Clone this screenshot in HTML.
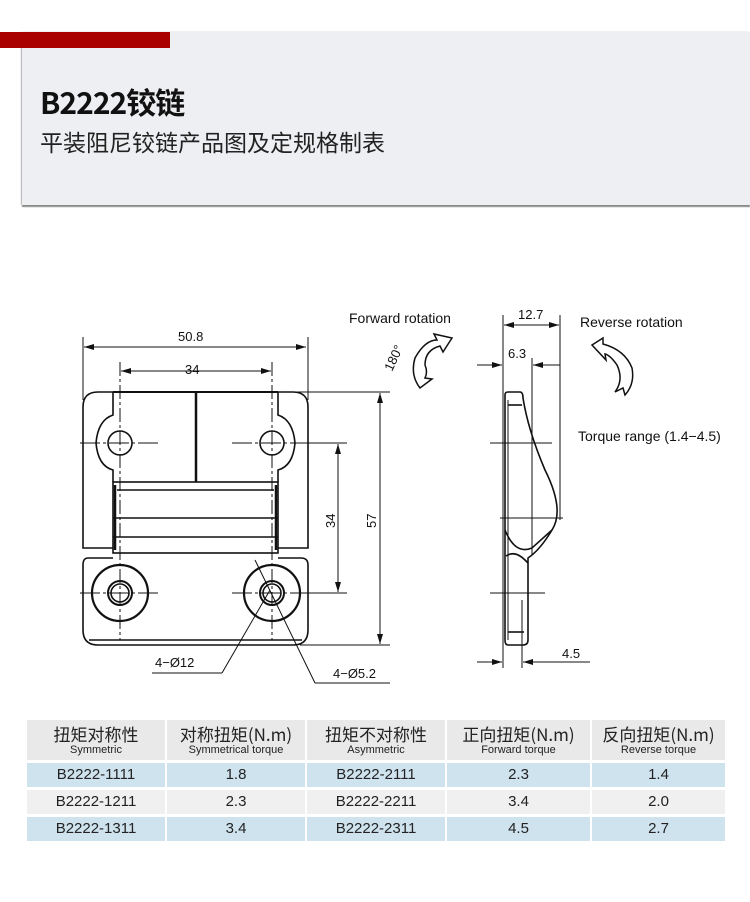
<!DOCTYPE html>
<html><head><meta charset="utf-8"><style>
body{margin:0;width:750px;height:902px;background:#fff;overflow:hidden;position:relative;font-family:"Liberation Sans","Noto Sans CJK SC",sans-serif}
.panel{position:absolute;left:22px;top:32px;width:728px;height:173px;background:#eeeff2;box-shadow:0 2px 1px #888,-1px 0 1px #bbb}
.red{position:absolute;left:0;top:32px;width:170px;height:16px;background:#a90000}
.t1{position:absolute;left:40px;top:79px;font-size:30px;font-weight:bold;color:#111;font-family:"Noto Sans CJK SC",sans-serif;letter-spacing:-1px}
.t2{position:absolute;left:40px;top:124px;font-size:23px;color:#222;font-family:"Noto Sans CJK SC",sans-serif}
.c{position:absolute;text-align:center;color:#222;font-size:15px;overflow:hidden;white-space:nowrap}
.h{background:#e9e9ea;top:720px;height:40px}
.h b{display:block;font-weight:normal;font-size:17px;line-height:21px;margin-top:3px;font-family:"Noto Sans CJK SC",sans-serif}
.h i{display:block;font-style:normal;font-size:11px;line-height:13px}
.r1{top:763px;height:24px;line-height:24px;background:#cfe3ef}
.r2{top:790px;height:24px;line-height:24px;background:#f0f0f0}
.r3{top:817px;height:24px;line-height:24px;background:#cfe3ef}
.k1{left:27px;width:138px}.k2{left:167px;width:138px}.k3{left:307px;width:138px}.k4{left:447px;width:143px}.k5{left:592px;width:133px}
</style></head><body>
<div class="panel"></div><div class="red"></div>
<div class="t1">B2222铰链</div>
<div class="t2">平装阻尼铰链产品图及定规格制表</div>
<svg width="750" height="902" style="position:absolute;left:0;top:0" font-family="Liberation Sans, sans-serif">
<defs><marker id="a" markerWidth="10" markerHeight="6" refX="10" refY="3" orient="auto" markerUnits="userSpaceOnUse"><path d="M0,0L10,3L0,6z" fill="#111"/></marker></defs>
<g stroke="#111" fill="none" stroke-width="1">
<line x1="83" y1="337" x2="83" y2="400"/><line x1="308" y1="337" x2="308" y2="400"/>
<line x1="86" y1="347" x2="306" y2="347" marker-end="url(#a)"/><line x1="300" y1="347" x2="84" y2="347" marker-end="url(#a)"/>
<line x1="120" y1="362" x2="120" y2="640" stroke-dasharray="14,3,3,3"/><line x1="272" y1="362" x2="272" y2="640" stroke-dasharray="14,3,3,3"/>
<line x1="121" y1="371" x2="271" y2="371" marker-end="url(#a)"/><line x1="260" y1="371" x2="121" y2="371" marker-end="url(#a)"/>
<line x1="278" y1="392" x2="390" y2="392"/><line x1="300" y1="645" x2="390" y2="645"/>
<line x1="290" y1="443" x2="347" y2="443"/><line x1="290" y1="593" x2="347" y2="593"/>
<line x1="380" y1="393" x2="380" y2="644" marker-end="url(#a)"/><line x1="380" y1="600" x2="380" y2="393" marker-end="url(#a)"/>
<line x1="338" y1="444" x2="338" y2="592" marker-end="url(#a)"/><line x1="338" y1="560" x2="338" y2="444" marker-end="url(#a)"/>
<line x1="80" y1="443" x2="160" y2="443" stroke-dasharray="20,3,3,3"/><line x1="232" y1="443" x2="300" y2="443" stroke-dasharray="20,3,3,3"/>
<line x1="80" y1="593" x2="160" y2="593" stroke-dasharray="20,3,3,3"/><line x1="232" y1="593" x2="300" y2="593" stroke-dasharray="20,3,3,3"/>
<g stroke-width="1.6">
<path d="M113,392 H98 Q83,392 83,407 V548 H113"/><path d="M278,392 H293 Q308,392 308,407 V548 H278"/>
<path d="M113,392 V415 Q98,420 96,443 Q98,466 113,470 V482"/><path d="M278,392 V415 Q293,420 295,443 Q293,466 278,470 V482"/>
<line x1="113" y1="392" x2="278" y2="392" stroke-width="2"/>
<line x1="196" y1="392" x2="196" y2="482" stroke-width="2.5"/>
<rect x="113" y="482" width="165" height="71"/>
<line x1="117" y1="490" x2="274" y2="490"/><line x1="113" y1="518" x2="278" y2="518"/><line x1="113" y1="537" x2="278" y2="537"/>
<line x1="115" y1="485" x2="115" y2="550" stroke-width="2.5"/><line x1="276" y1="485" x2="276" y2="550" stroke-width="2.5"/>
<path d="M113,558 H88 Q83,558 83,565 V630 Q83,645 98,645 H293 Q308,645 308,630 V565 Q308,558 301,558 H278"/>
<line x1="89" y1="640" x2="302" y2="640"/>
<circle cx="120" cy="443" r="12"/><circle cx="272" cy="443" r="12"/>
<circle cx="120" cy="593" r="28" stroke-width="2.2"/><circle cx="120" cy="593" r="12" stroke-width="2"/><circle cx="120" cy="593" r="9"/>
<circle cx="272" cy="593" r="28" stroke-width="2.2"/><circle cx="272" cy="593" r="12" stroke-width="2"/><circle cx="272" cy="593" r="9"/>
</g>
<line x1="255" y1="560" x2="315" y2="683"/><line x1="315" y1="683" x2="390" y2="683"/>
<line x1="270" y1="590" x2="222" y2="673"/><line x1="152" y1="673" x2="222" y2="673"/>
<line x1="503" y1="315" x2="503" y2="668"/><line x1="560" y1="315" x2="560" y2="520"/><line x1="532" y1="358" x2="532" y2="555"/><line x1="522" y1="600" x2="522" y2="668"/>
<line x1="504" y1="325" x2="559" y2="325" marker-end="url(#a)"/><line x1="540" y1="325" x2="504" y2="325" marker-end="url(#a)"/>
<line x1="477" y1="365" x2="502" y2="365" marker-end="url(#a)"/><line x1="560" y1="365" x2="533" y2="365" marker-end="url(#a)"/>
<line x1="477" y1="662" x2="502" y2="662" marker-end="url(#a)"/><line x1="590" y1="662" x2="523" y2="662" marker-end="url(#a)"/>
<line x1="490" y1="443" x2="552" y2="443"/><line x1="500" y1="518" x2="563" y2="518"/><line x1="490" y1="593" x2="545" y2="593"/>
<g stroke-width="1.6">
<path d="M505,395 Q505,392 508,392 H520 Q523,392 523,398 Q528,430 545,470 Q565,510 552,530 Q540,550 528,558 V640 Q528,645 523,645 H508 Q505,645 505,640 Z"/>
<path d="M505,530 Q515,555 532,548 L552,530"/>
<path d="M506,556 Q515,550 525,560 L528,563"/>
<line x1="508" y1="405" x2="522" y2="405"/><line x1="508" y1="632" x2="524" y2="632"/>
<line x1="508" y1="400" x2="508" y2="640" stroke-width="1"/>
</g>
<path d="M452,338 L443,352 L440,346 Q425,350 425,365 Q428,372 425,378 L432,379 L420,388 Q410,375 415,358 Q425,340 437,340 L434,334 Z" stroke-width="1.5"/>
<path d="M592,345 L603,338 L603,344 Q625,350 632,368 Q635,384 625,395 L623,388 L615,392 Q624,380 617,365 Q610,355 605,354 L606,360 Z" stroke-width="1.5"/>
</g>
<g fill="#111" font-size="13">
<text x="178" y="341">50.8</text><text x="185" y="374">34</text>
<text transform="translate(335,528) rotate(-90)">34</text><text transform="translate(376,528) rotate(-90)">57</text>
<text x="155" y="667">4−Ø12</text><text x="333" y="678">4−Ø5.2</text>
<text x="349" y="323" font-size="14">Forward rotation</text>
<text transform="translate(392,372) rotate(-65)" font-size="13">180°</text>
<text x="518" y="319">12.7</text><text x="508" y="358">6.3</text><text x="562" y="658">4.5</text>
<text x="580" y="327" font-size="14">Reverse rotation</text>
<text x="578" y="441" font-size="14">Torque range (1.4−4.5)</text>
</g>
</svg>
<div class="c h k1"><b>扭矩对称性</b><i>Symmetric</i></div>
<div class="c h k2"><b>对称扭矩(N.m)</b><i>Symmetrical torque</i></div>
<div class="c h k3"><b>扭矩不对称性</b><i>Asymmetric</i></div>
<div class="c h k4"><b>正向扭矩(N.m)</b><i>Forward torque</i></div>
<div class="c h k5"><b>反向扭矩(N.m)</b><i>Reverse torque</i></div>
<div class="c r1 k1">B2222-1111</div><div class="c r1 k2">1.8</div><div class="c r1 k3">B2222-2111</div><div class="c r1 k4">2.3</div><div class="c r1 k5">1.4</div>
<div class="c r2 k1">B2222-1211</div><div class="c r2 k2">2.3</div><div class="c r2 k3">B2222-2211</div><div class="c r2 k4">3.4</div><div class="c r2 k5">2.0</div>
<div class="c r3 k1">B2222-1311</div><div class="c r3 k2">3.4</div><div class="c r3 k3">B2222-2311</div><div class="c r3 k4">4.5</div><div class="c r3 k5">2.7</div>
</body></html>
